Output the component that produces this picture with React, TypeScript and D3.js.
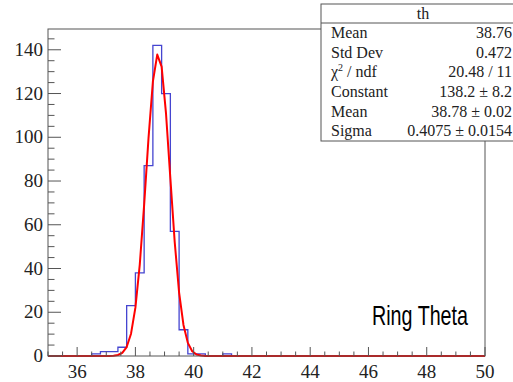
import * as d3 from "d3";

// histogram "th": 50 bins of 0.3 from 35 to 50
const binLow = 35;
const binWidth = 0.3;
const counts = [
  0, 0, 0, 0, 0, 1, 2, 2, 4, 23,
  38, 87, 142, 120, 57, 12, 1, 1, 0, 0,
  1, 0, 0, 0, 0, 0, 0, 0, 0, 0,
  0, 0, 0, 0, 0, 0, 0, 0, 0, 0,
  0, 0, 0, 0, 0, 0, 0, 0, 0, 0,
];

// gaus fit as drawn (sampled points, zero outside)
const fitX = [35, 37.1, 37.25, 37.4, 37.55, 37.7, 37.85, 38.0, 38.15, 38.3, 38.45, 38.6, 38.75,
  38.9, 39.05, 39.2, 39.35, 39.5, 39.65, 39.8, 39.95, 40.1, 40.25, 40.4, 50];
const fitY = [0, 0.03, 0.12, 0.45, 1.45, 4.1, 10.2, 22.1, 41.8, 69.1, 99.6, 125.4, 137.8,
  132.3, 111.0, 81.2, 52.0, 29.0, 14.2, 6.0, 2.2, 0.7, 0.2, 0.05, 0];

const statsTitle = "th";
const statsLabels = ["Mean", "Std Dev", "CHI", "Constant", "Mean", "Sigma"];
const statsValues = ["38.76", "0.472", "20.48 / 11", "138.2 \u00b1 8.2", "38.78 \u00b1 0.02", "0.4075 \u00b1 0.0154"];

const W = 513;
const H = 382;
const frame = { left: 48, right: 485, top: 29, bottom: 356 };
const serif = "'Liberation Serif', 'Times New Roman', serif";

export default function App() {
  const x = d3.scaleLinear().domain([35, 50]).range([frame.left, frame.right]);
  const y = d3.scaleLinear().domain([0, 149.5]).range([frame.bottom, frame.top]);

  const steps: [number, number][] = [[binLow, 0]];
  counts.forEach((c, i) => {
    const lo = binLow + i * binWidth;
    steps.push([lo, c]);
    steps.push([lo + binWidth, c]);
  });
  steps.push([binLow + counts.length * binWidth, 0]);
  const histPath = d3.line<[number, number]>().x(d => x(d[0])).y(d => y(d[1]))(steps) || "";

  const fitPath = d3.line<number>().x(d => x(d)).y((_, i) => y(fitY[i]))(fitX) || "";

  const xMajor = x.ticks(8);
  const xMinor = x.ticks(30).filter(t => !xMajor.includes(t));
  const yMajor = y.ticks(8);
  const yMinor = y.ticks(30).filter(t => !yMajor.includes(t));

  const box = { left: 321, top: 4, right: 530, bottom: 141, titleBottom: 23 };
  const rowH = (box.bottom - box.titleBottom) / statsLabels.length;

  return (
    <svg width={W} height={H} style={{ position: "absolute", left: 0, top: 0, background: "#fff" }}>
      <defs>
        <clipPath id="frameClip">
          <rect x={frame.left} y={frame.top - 2} width={frame.right - frame.left} height={frame.bottom - frame.top + 3} />
        </clipPath>
      </defs>
      <rect x={0} y={0} width={W} height={H} fill="#fff" />

      <g clipPath="url(#frameClip)">
        <path d={histPath} fill="none" stroke="#4545d0" strokeWidth={1.3} />
        <path d={fitPath} fill="none" stroke="#ff0000" strokeWidth={2} strokeLinejoin="round" />
      </g>

      <rect x={frame.left} y={frame.top} width={frame.right - frame.left} height={frame.bottom - frame.top}
        fill="none" stroke="#555" strokeWidth={1} />

      {/* x axis */}
      {xMajor.map(t => (
        <g key={"xM" + t}>
          <line x1={x(t)} x2={x(t)} y1={frame.bottom} y2={frame.bottom - 9} stroke="#555" />
          <text x={x(t)} y={378} textAnchor="middle" fontFamily={serif} fontSize={19} fill="#222">{t}</text>
        </g>
      ))}
      {xMinor.map(t => (
        <line key={"xm" + t} x1={x(t)} x2={x(t)} y1={frame.bottom} y2={frame.bottom - 4.5} stroke="#555" />
      ))}

      {/* y axis */}
      {yMajor.map(t => (
        <g key={"yM" + t}>
          <line x1={frame.left} x2={frame.left + 13} y1={y(t)} y2={y(t)} stroke="#555" />
          <text x={43} y={y(t) + 6} textAnchor="end" fontFamily={serif} fontSize={19} fill="#222">{t}</text>
        </g>
      ))}
      {yMinor.map(t => (
        <line key={"ym" + t} x1={frame.left} x2={frame.left + 6.5} y1={y(t)} y2={y(t)} stroke="#555" />
      ))}

      <text x={372} y={325} textLength={96} lengthAdjust="spacingAndGlyphs"
        fontFamily="'Liberation Sans', Arial, sans-serif" fontSize={28} fill="#000">
        Ring Theta
      </text>

      {/* stats box */}
      <rect x={box.left} y={box.top} width={box.right - box.left} height={box.bottom - box.top}
        fill="#fff" stroke="#555" strokeWidth={1} />
      <line x1={box.left} x2={box.right} y1={box.titleBottom} y2={box.titleBottom} stroke="#555" />
      <text x={423} y={19} textAnchor="middle" fontFamily={serif} fontSize={16} fill="#222">{statsTitle}</text>
      {statsLabels.map((lab, i) => {
        const by = box.titleBottom + rowH * (i + 0.5) + 5;
        return (
          <g key={"s" + i}>
            <text x={331} y={by} fontFamily={serif} fontSize={16} fill="#222">
              {lab === "CHI" ? (
                <>
                  {"\u03c7"}
                  <tspan fontSize={10} dy={-6}>2</tspan>
                  <tspan dy={6}>{" / ndf"}</tspan>
                </>
              ) : lab}
            </text>
            <text x={512} y={by} textAnchor="end" fontFamily={serif} fontSize={16} fill="#222">{statsValues[i]}</text>
          </g>
        );
      })}
    </svg>
  );
}
